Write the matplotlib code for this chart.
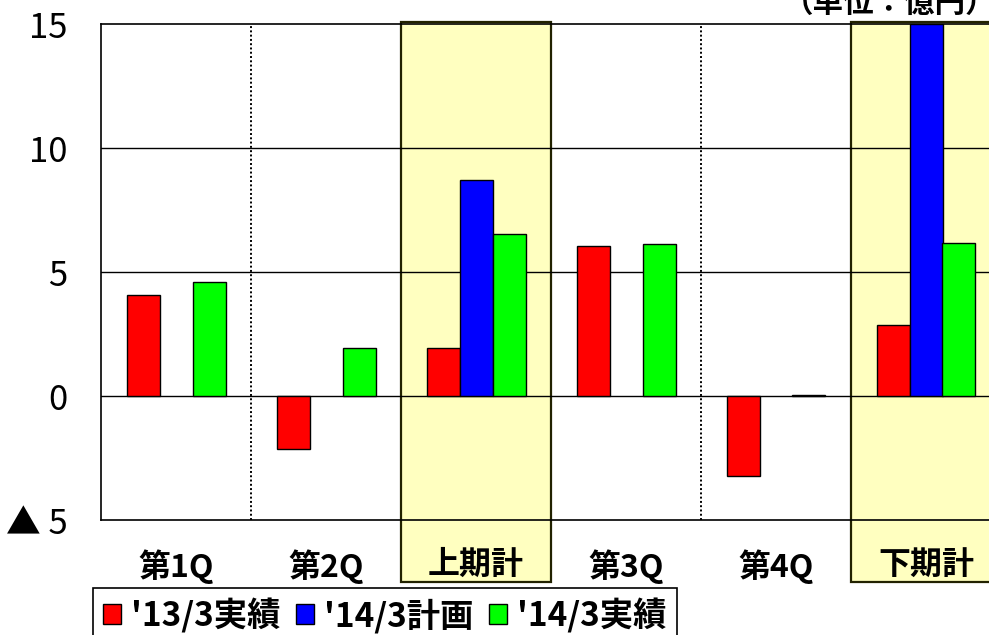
import matplotlib.pyplot as plt
from matplotlib.patches import Rectangle

plt.rcParams['font.family'] = ['Noto Sans CJK JP', 'DejaVu Sans']

# data (unit: 億円)
categories = ['第1Q', '第2Q', '上期計', '第3Q', '第4Q', '下期計']
actual_13 = [4.07, -2.14, 1.94, 6.05, -3.23, 2.86]
plan_14 = [None, None, 8.71, None, None, 15.0]
actual_14 = [4.60, 1.94, 6.53, 6.13, 0.05, 6.17]
series_names = ["'13/3実績", "'14/3計画", "'14/3実績"]
series_colors = ['#FF0000', '#0000FF', '#00FF00']
half_totals = [2, 5]
ytick_vals = [-5, 0, 5, 10, 15]
ytick_labels = ['▲ 5', '0', '5', '10', '15']

fig = plt.figure(figsize=(9.89, 6.35), dpi=100)
ax = fig.add_axes([101 / 989, 1 - 520 / 635, 900 / 989, 496 / 635])

ax.set_xlim(-0.5, len(categories) - 0.5)
ax.set_ylim(-5, 15)

# yellow highlight boxes for half-year totals (reach below the axis)
for i in half_totals:
    ax.add_patch(Rectangle((i - 0.5, -7.5), 1.0, 22.6, facecolor='#FFFFC0',
                           edgecolor='#222200', linewidth=1.6, zorder=0.5,
                           clip_on=False))

# gridlines
for y in [0, 5, 10]:
    ax.axhline(y, color='black', linewidth=1, zorder=1)
for x in [0.5, 3.5]:
    ax.axvline(x, color='black', linewidth=1.4, linestyle=(0, (1, 1.2)), zorder=1)

w = 0.22
offsets = [-w, 0, w]
for k, vals in enumerate([actual_13, plan_14, actual_14]):
    xs = [i + offsets[k] for i, v in enumerate(vals) if v is not None]
    hs = [v for v in vals if v is not None]
    ax.bar(xs, hs, width=w, color=series_colors[k], edgecolor='black',
           linewidth=1, zorder=3, label=series_names[k])

for s in ['left', 'top', 'bottom']:
    ax.spines[s].set_color('black')
    ax.spines[s].set_linewidth(1.2)
ax.spines['right'].set_visible(False)

ax.set_yticks(ytick_vals)
ax.set_yticklabels(ytick_labels, fontsize=25)
ax.set_xticks(range(len(categories)))
ax.set_xticklabels(categories, fontsize=23, fontweight='bold')
ax.tick_params(axis='y', length=0, pad=24)
ax.tick_params(axis='x', length=0, pad=21)
for lbl in ax.get_xticklabels():
    lbl.set_zorder(5)

leg = fig.legend(loc='upper left', bbox_to_anchor=(93 / 989, 1 - 588 / 635),
                 ncol=3, frameon=True, fancybox=False, edgecolor='black',
                 framealpha=1, borderaxespad=0, handlelength=0.55,
                 handleheight=0.55, handletextpad=0.3, columnspacing=0.45,
                 borderpad=0.3, prop={'size': 24, 'weight': 'bold'})
leg.get_frame().set_linewidth(1.2)

fig.text(783 / 989, 1 - 12 / 635, '（単位：億円）', fontsize=22,
         fontweight='bold', ha='left', va='baseline')

fig.savefig('out.png', dpi=100)
